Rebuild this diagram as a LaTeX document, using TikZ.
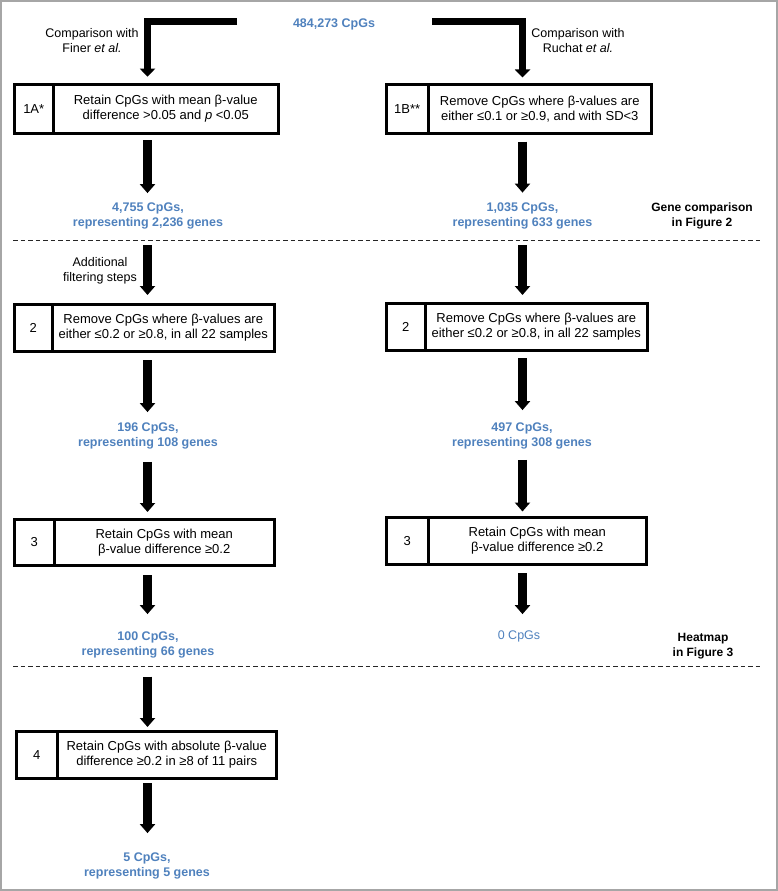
\documentclass[tikz,border=0pt]{standalone}
\usepackage{fontspec}
\setmainfont{Liberation Sans}
\usetikzlibrary{arrows.meta}
\definecolor{cblue}{HTML}{4F81BD}
\begin{document}
\begin{tikzpicture}[x=1pt,y=-1pt,
  box/.style={draw, line width=3pt, inner sep=0pt, outer sep=0pt, align=center,
    font=\fontsize{13}{15}\selectfont, anchor=north west},
  count/.style={text=cblue, font=\bfseries\fontsize{12.5}{15}\selectfont, align=center, inner sep=0pt},
  lbl/.style={font=\fontsize{12.5}{15}\selectfont, align=center, inner sep=0pt},
  side/.style={font=\bfseries\fontsize{12}{14.5}\selectfont, align=center, inner sep=0pt},
  fat/.style={line width=9pt, -{Triangle[width=15pt,length=9pt]}},
  bent/.style={line width=7pt, line join=miter, -{Triangle[width=15pt,length=8pt]}},
  sep/.style={line width=1pt, dash pattern=on 4.5pt off 3pt, black!85}]
\useasboundingbox (0,0) rectangle (778,891);
\draw[black!35, line width=1.5pt] (1,1) rectangle (777,890);

\coordinate (colL) at (147.5,0);
\coordinate (colR) at (522.5,0);

% top
\node[count] (c0) at (334,24) {484,273 CpGs};
\coordinate (s1) at (237,21.7);
\coordinate (s2) at (432,21.7);
\node[lbl] (l1) at (92,41) {Comparison with\\Finer \textit{et al.}};
\node[lbl] (l2) at (578,41) {Comparison with\\Ruchat \textit{et al.}};

% boxes 1
\node[box, minimum width=38.5pt, minimum height=49pt] (n1a) at (14.5,84.5) {1A*};
\node[box, minimum width=225.5pt, minimum height=49pt] (b1a) at (n1a.north east)
  {Retain CpGs with mean β-value\\difference >0.05 and \textit{p} <0.05};
\node[box, minimum width=41.5pt, minimum height=49pt] (n1b) at (386.5,84.5) {1B**};
\node[box, minimum width=223.5pt, minimum height=49pt] (b1b) at (n1b.north east)
  {Remove CpGs where β-values are\\either ≤0.1 or ≥0.9, and with SD<3};

\draw[bent] (s1) -| ([yshift=7.8pt]n1a.north -| colL);
\draw[bent] (s2) -| ([yshift=7pt]n1b.north -| colR);

\node[count] (c1a) at (148,216) {4,755 CpGs,\\representing 2,236 genes};
\node[count] (c1b) at (522.5,216) {1,035 CpGs,\\representing 633 genes};
\node[side] (g2) at (702,216) {Gene comparison\\in Figure 2};

\draw[fat, shorten <=6.5pt, shorten >=9.5pt] (n1a.south -| colL) -- (c1a.north -| colL);
\draw[fat, shorten <=8pt, shorten >=10pt] (n1b.south -| colR) -- (c1b.north -| colR);

\coordinate (d1a) at (13,240);
\coordinate (d1b) at (763,240);
\draw[sep] (d1a) -- (d1b);

% boxes 2
\node[lbl] (l3) at (100,271) {Additional\\filtering steps};
\node[box, minimum width=37.5pt, minimum height=47pt] (n2L) at (14.5,304.5) {2};
\node[box, minimum width=222.5pt, minimum height=47pt] (b2L) at (n2L.north east)
  {Remove CpGs where β-values are\\either ≤0.2 or ≥0.8, in all 22 samples};
\node[box, minimum width=38.5pt, minimum height=47pt] (n2R) at (386.5,303.5) {2};
\node[box, minimum width=222.5pt, minimum height=47pt] (b2R) at (n2R.north east)
  {Remove CpGs where β-values are\\either ≤0.2 or ≥0.8, in all 22 samples};

\draw[fat, shorten <=5pt, shorten >=9.5pt] (d1a -| colL) -- (n2L.north -| colL);
\draw[fat, shorten <=5pt, shorten >=8.5pt] (d1b -| colR) -- (n2R.north -| colR);

\node[count] (c2L) at (148,436) {196 CpGs,\\representing 108 genes};
\node[count] (c2R) at (522,436) {497 CpGs,\\representing 308 genes};

\draw[fat, shorten <=8.5pt, shorten >=10.5pt] (n2L.south -| colL) -- (c2L.north -| colL);
\draw[fat, shorten <=7.5pt, shorten >=12.5pt] (n2R.south -| colR) -- (c2R.north -| colR);

% boxes 3
\node[box, minimum width=39.5pt, minimum height=46pt] (n3L) at (14.5,519.5) {3};
\node[box, minimum width=220.5pt, minimum height=46pt] (b3L) at (n3L.north east)
  {Retain CpGs with mean\\β-value difference ≥0.2};
\node[box, minimum width=41.5pt, minimum height=47pt] (n3R) at (386.5,517.5) {3};
\node[box, minimum width=218.5pt, minimum height=47pt] (b3R) at (n3R.north east)
  {Retain CpGs with mean\\β-value difference ≥0.2};

\draw[fat, shorten <=12.5pt, shorten >=7.5pt] (c2L.south -| colL) -- (n3L.north -| colL);
\draw[fat, shorten <=10.5pt, shorten >=6pt] (c2R.south -| colR) -- (n3R.north -| colR);

\node[count] (c3L) at (148,645) {100 CpGs,\\representing 66 genes};
\node[count, font=\fontsize{12.5}{15}\selectfont] (c3R) at (519,636) {0 CpGs};
\node[side] (g3) at (703,646) {Heatmap\\in Figure 3};

\draw[fat, shorten <=9.5pt, shorten >=17.5pt] (n3L.south -| colL) -- (c3L.north -| colL);
\draw[fat, shorten <=8.5pt, shorten >=16pt] (n3R.south -| colR) -- (c3R.north -| colR);

\coordinate (d2a) at (13,666.7);
\coordinate (d2b) at (763,666.7);
\draw[sep] (d2a) -- (d2b);

% box 4
\node[box, minimum width=40.5pt, minimum height=47pt] (n4) at (16.5,731.5) {4};
\node[box, minimum width=219.5pt, minimum height=47pt] (b4) at (n4.north east)
  {Retain CpGs with absolute β-value\\difference ≥0.2 in ≥8 of 11 pairs};

\draw[fat, shorten <=10pt, shorten >=4.5pt] (d2a -| colL) -- (n4.north -| colL);

\node[count] (c4) at (147,866) {5 CpGs,\\representing 5 genes};
\draw[fat, shorten <=4.5pt, shorten >=19.5pt] (n4.south -| colL) -- (c4.north -| colL);
\end{tikzpicture}
\end{document}
